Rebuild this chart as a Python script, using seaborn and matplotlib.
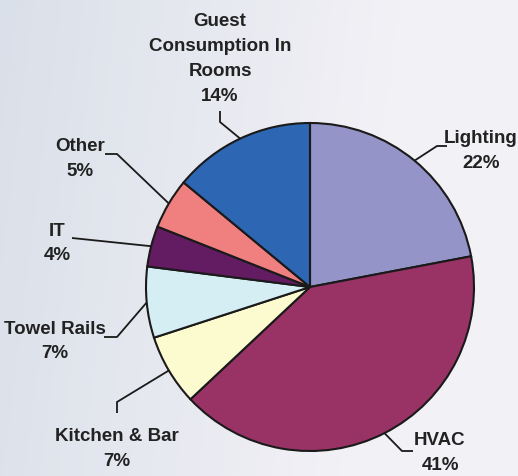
import numpy as np
import matplotlib
matplotlib.use("Agg")
import matplotlib.pyplot as plt
from matplotlib import font_manager
import seaborn as sns

# energy use breakdown, clockwise from 12 o'clock
categories = ["Lighting", "HVAC", "Kitchen & Bar", "Towel Rails", "IT", "Other",
              "Guest\nConsumption In\nRooms"]
shares = [22, 41, 7, 7, 4, 5, 14]
colors = ["#9494C8", "#993366", "#FCFACF", "#D5EEF4", "#631C62", "#F08080", "#2D66B2"]

# label layout in pixels (y up): elbow points, line ends, text centres
W, H = 518, 477
elbows = [(437, H - 147), (402, H - 452), (117, H - 403), (117, H - 338),
          None, (117, H - 155), (220, H - 123)]
ends = [(447, H - 147), (413, H - 452), (117, H - 414), (104, H - 338),
        (72, H - 239), (105, H - 155), (220, H - 112)]
text_pos = [(481, H - 151), (440, H - 453), (117, H - 449), (55, H - 341.5),
            (57, H - 243.5), (80, H - 159), (220, H - 59)]

sns.set_style("white")
installed = {f.name for f in font_manager.fontManager.ttflist}
if "Liberation Sans Narrow" in installed:
    plt.rcParams["font.family"] = ["Liberation Sans Narrow", "DejaVu Sans"]
    fsize, lspace = 15, 1.44
else:
    plt.rcParams["font.family"] = ["Liberation Sans", "DejaVu Sans"]
    fsize, lspace = 13.5, 1.6

fig = plt.figure(figsize=(W / 100, H / 100), dpi=100)
ax = fig.add_axes([0, 0, 1, 1])

# soft pale background
gx = np.linspace(0, 1, 200)
gy = np.linspace(0, 1, 200)
GX, GY = np.meshgrid(gx, gy)
left = np.array([218, 224, 233]) / 255
right = np.array([242, 241, 246]) / 255
t = np.clip(GX * 1.3 + 0.15 * (1 - GY), 0, 1)[..., None]
bg = left * (1 - t) + right * t
ax.imshow(bg, extent=[0, W, 0, H], origin="lower", zorder=0, aspect="auto")

wedges, _ = ax.pie(shares, colors=sns.color_palette(colors), startangle=90,
                   counterclock=False, center=(310, H - 288), radius=164,
                   wedgeprops=dict(edgecolor="#1a1a1a", linewidth=1.5),
                   frame=True)

for w, name, val, elb, end, tp in zip(wedges, categories, shares, elbows, ends, text_pos):
    mid = np.deg2rad((w.theta1 + w.theta2) / 2)
    ax_, ay_ = w.center[0] + w.r * np.cos(mid), w.center[1] + w.r * np.sin(mid)
    pts = [(ax_, ay_)] + ([elb] if elb else []) + [end]
    xs, ys = zip(*pts)
    ax.plot(xs, ys, color="#1a1a1a", lw=1.3, zorder=3, solid_capstyle="butt")
    ax.text(tp[0], tp[1], f"{name}\n{val}%", ha="center", va="center",
            fontsize=fsize, fontweight="bold", color="#222222", linespacing=lspace)

ax.set_xlim(0, W)
ax.set_ylim(0, H)
ax.set_aspect("auto")
ax.axis("off")
fig.savefig("out.png", dpi=100)
